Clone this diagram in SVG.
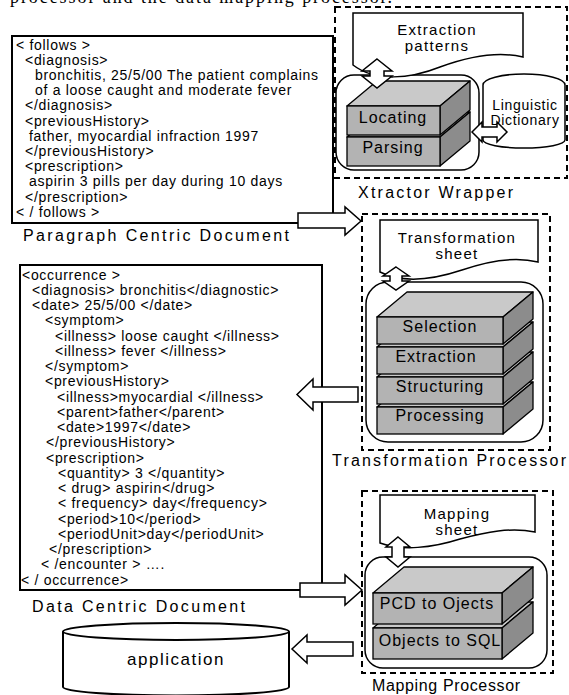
<svg xmlns="http://www.w3.org/2000/svg" width="569" height="695" viewBox="0 0 569 695">
<style>
text{font-family:"Liberation Sans",Arial,sans-serif;fill:#000}
.t{font-size:14px;letter-spacing:0.7px}
.cap{font-size:16px}
.blk{font-size:16px;letter-spacing:1px;text-anchor:middle}
.lbl{font-size:15px;letter-spacing:1.3px;text-anchor:middle}
.box{fill:#fff;stroke:#000;stroke-width:2}
.dash{fill:none;stroke:#000;stroke-width:2;stroke-dasharray:6 4}
.rr{fill:#fff;stroke:#000;stroke-width:1.5}
.doc{fill:#fff;stroke:#000;stroke-width:1.5}
.front{fill:#b3b3b3;stroke:#000;stroke-width:1.3}
.top{fill:#c9c9c9;stroke:#000;stroke-width:1.3;stroke-linejoin:round}
.side{fill:#8c8c8c;stroke:#000;stroke-width:1.3;stroke-linejoin:round}
.arr{fill:#fff;stroke:#000;stroke-width:1.5}
</style>
<text x="10" y="2.5" style="font-family:'Liberation Serif','Times New Roman',serif;font-size:18px" textLength="382" lengthAdjust="spacing">processor and the data mapping processor.</text>

<g id="paragraph-doc">
<rect class="box" x="12" y="36" width="321" height="187"/>
<text class="t" x="16" y="49.5">&lt; follows &gt;</text>
<text class="t" x="25" y="64.7">&lt;diagnosis&gt;</text>
<text class="t" x="35" y="79.9">bronchitis, 25/5/00 The patient complains</text>
<text class="t" x="35" y="95.1">of a loose caught and moderate fever</text>
<text class="t" x="25" y="110.3">&lt;/diagnosis&gt;</text>
<text class="t" x="25" y="125.5">&lt;previousHistory&gt;</text>
<text class="t" x="29" y="140.7">father, myocardial infraction 1997</text>
<text class="t" x="25" y="155.9">&lt;/previousHistory&gt;</text>
<text class="t" x="25" y="171.1">&lt;prescription&gt;</text>
<text class="t" x="29" y="186.3">aspirin 3 pills per day during 10 days</text>
<text class="t" x="25" y="201.5">&lt;/prescription&gt;</text>
<text class="t" x="16" y="216.7">&lt; / follows &gt;</text>
<text class="cap" x="23" y="241" textLength="266" lengthAdjust="spacing">Paragraph Centric Document</text>
</g>

<g id="data-doc">
<rect class="box" x="20" y="265" width="302" height="325"/>
<text class="t" x="22" y="279.5">&lt;occurrence &gt;</text>
<text class="t" x="32" y="294.7">&lt;diagnosis&gt; bronchitis&lt;/diagnostic&gt;</text>
<text class="t" x="32" y="310">&lt;date&gt; 25/5/00 &lt;/date&gt;</text>
<text class="t" x="45" y="325.2">&lt;symptom&gt;</text>
<text class="t" x="55" y="340.5">&lt;illness&gt; loose caught &lt;/illness&gt;</text>
<text class="t" x="55" y="355.7">&lt;illness&gt; fever &lt;/illness&gt;</text>
<text class="t" x="45" y="371">&lt;/symptom&gt;</text>
<text class="t" x="45" y="386.2">&lt;previousHistory&gt;</text>
<text class="t" x="57" y="401.5">&lt;illness&gt;myocardial &lt;/illness&gt;</text>
<text class="t" x="57" y="416.7">&lt;parent&gt;father&lt;/parent&gt;</text>
<text class="t" x="57" y="432">&lt;date&gt;1997&lt;/date&gt;</text>
<text class="t" x="46" y="447.2">&lt;/previousHistory&gt;</text>
<text class="t" x="46" y="462.5">&lt;prescription&gt;</text>
<text class="t" x="58" y="477.7">&lt;quantity&gt; 3 &lt;/quantity&gt;</text>
<text class="t" x="58" y="493">&lt; drug&gt; aspirin&lt;/drug&gt;</text>
<text class="t" x="58" y="508.2">&lt; frequency&gt; day&lt;/frequency&gt;</text>
<text class="t" x="58" y="523.5">&lt;period&gt;10&lt;/period&gt;</text>
<text class="t" x="58" y="538.7">&lt;periodUnit&gt;day&lt;/periodUnit&gt;</text>
<text class="t" x="49" y="554">&lt;/prescription&gt;</text>
<text class="t" x="41" y="569.2">&lt; /encounter &gt; ….</text>
<text class="t" x="21" y="584.5">&lt; / occurrence&gt;</text>
<text class="cap" x="32" y="612" textLength="213" lengthAdjust="spacing">Data Centric Document</text>
</g>

<g id="application">
<path class="box" d="M63,631.5 V687 A113,8.5 0 0 0 289,687 V631.5"/>
<ellipse class="box" cx="176" cy="631.5" rx="113" ry="8.5"/>
<text x="176" y="665" style="font-size:17px;letter-spacing:1.5px;text-anchor:middle">application</text>
</g>

<g id="xtractor-wrapper">
<rect class="dash" x="335" y="7" width="232" height="171"/>
<rect class="rr" x="336" y="75" width="143" height="95" rx="18"/>
<path class="doc" d="M353,13 H523 V57 C498,51 470,56 440,67 C410,79 375,82 353,65 Z"/>
<text class="lbl" x="437" y="34.5">Extraction</text>
<text class="lbl" x="437" y="50.5">patterns</text>
<path class="top" d="M347,137 L377,112 L470,112 L440,137 Z"/>
<path class="side" d="M440,137 L470,112 L470,141 L440,166 Z"/>
<rect class="front" x="347" y="137" width="93" height="29"/>
<path class="top" d="M347,106 L377,81 L470,81 L440,106 Z"/>
<path class="side" d="M440,106 L470,81 L470,110 L440,135 Z"/>
<rect class="front" x="347" y="106" width="93" height="29"/>
<text class="blk" x="393" y="122.7">Locating</text>
<text class="blk" x="393" y="152.7">Parsing</text>
<text class="cap" x="358" y="198" textLength="155" lengthAdjust="spacing">Xtractor Wrapper</text>
</g>

<g id="linguistic-dictionary">
<path class="box" style="stroke-width:1.5" d="M483,85 A41,11 0 0 1 565,85 V140 A41,8 0 0 1 483,140 Z"/>
<text x="525" y="110" style="font-size:14px;letter-spacing:0.7px;text-anchor:middle">Linguistic</text>
<text x="525" y="124.5" style="font-size:14px;letter-spacing:0.7px;text-anchor:middle">Dictionary</text>
</g>

<g id="transformation-processor">
<rect class="dash" x="362" y="214" width="188" height="236"/>
<rect class="rr" x="366" y="282" width="177" height="160" rx="22"/>
<path class="doc" d="M380,220 H538 V262 C514,256 488,261 462,270 C432,280 402,283 380,272 Z"/>
<text class="lbl" x="457" y="242.5">Transformation</text>
<text class="lbl" x="457" y="258.5">sheet</text>
<path class="top" d="M377,407 L407,382 L533,382 L503,407 Z"/>
<path class="side" d="M503,407 L533,382 L533,409 L503,434 Z"/>
<rect class="front" x="377" y="407" width="126" height="27"/>
<path class="top" d="M377,377 L407,352 L533,352 L503,377 Z"/>
<path class="side" d="M503,377 L533,352 L533,379 L503,404 Z"/>
<rect class="front" x="377" y="377" width="126" height="27"/>
<path class="top" d="M377,347 L407,322 L533,322 L503,347 Z"/>
<path class="side" d="M503,347 L533,322 L533,349 L503,374 Z"/>
<rect class="front" x="377" y="347" width="126" height="27"/>
<path class="top" d="M377,317 L407,292 L533,292 L503,317 Z"/>
<path class="side" d="M503,317 L533,292 L533,319 L503,344 Z"/>
<rect class="front" x="377" y="317" width="126" height="27"/>
<text class="blk" x="440" y="332">Selection</text>
<text class="blk" x="436" y="362">Extraction</text>
<text class="blk" x="440" y="392">Structuring</text>
<text class="blk" x="440" y="421">Processing</text>
<text class="cap" x="332" y="466" textLength="234" lengthAdjust="spacing">Transformation Processor</text>
</g>

<g id="mapping-processor">
<rect class="dash" x="362" y="491" width="191" height="182"/>
<rect class="rr" x="365" y="557" width="182" height="111" rx="18"/>
<path class="doc" d="M380,495 H535 V532 C511,527 486,532 460,539 C432,548 402,551 380,543 Z"/>
<text class="lbl" x="457" y="518.5">Mapping</text>
<text class="lbl" x="457" y="535">sheet</text>
<path class="top" d="M373,628 L404,602 L533,602 L502,628 Z"/>
<path class="side" d="M502,628 L533,602 L533,633 L502,659 Z"/>
<rect class="front" x="373" y="628" width="129" height="31"/>
<path class="top" d="M373,593 L404,567 L533,567 L502,593 Z"/>
<path class="side" d="M502,593 L533,567 L533,598 L502,624 Z"/>
<rect class="front" x="373" y="593" width="129" height="31"/>
<text class="blk" x="437" y="609">PCD to Ojects</text>
<text class="blk" x="440" y="646">Objects to SQL</text>
<text class="cap" x="372" y="691" textLength="148" lengthAdjust="spacing">Mapping Processor</text>
</g>

<g id="connectors">
<path class="arr" d="M298,213 H345 V207 L361,221 L345,235 V228 H298 Z"/>
<path class="arr" d="M358,387 H313 V379 L297,394.5 L313,410 V402 H358 Z"/>
<path class="arr" d="M300,583 H345 V575 L362,590 L345,605 V597 H300 Z"/>
<path class="arr" d="M353,642 H307 V635 L292,649 L307,663 V656 H353 Z"/>
<path class="arr" d="M377,59 L392,71 L384,71 L384,76 L392,76 L377,88 L362,76 L370,76 L370,71 L362,71 Z"/>
<path class="arr" d="M396,267 L409,276 L402,276 L402,281 L409,281 L396,290 L383,281 L390,281 L390,276 L383,276 Z"/>
<path class="arr" d="M398,537 L410,547 L404,547 L404,557 L410,557 L398,567 L386,557 L392,557 L392,547 L386,547 Z"/>
<path class="arr" d="M472,132 L482,122 L482,127 L497,127 L497,122 L507,132 L497,142 L497,137 L482,137 L482,142 Z"/>
</g>
</svg>
